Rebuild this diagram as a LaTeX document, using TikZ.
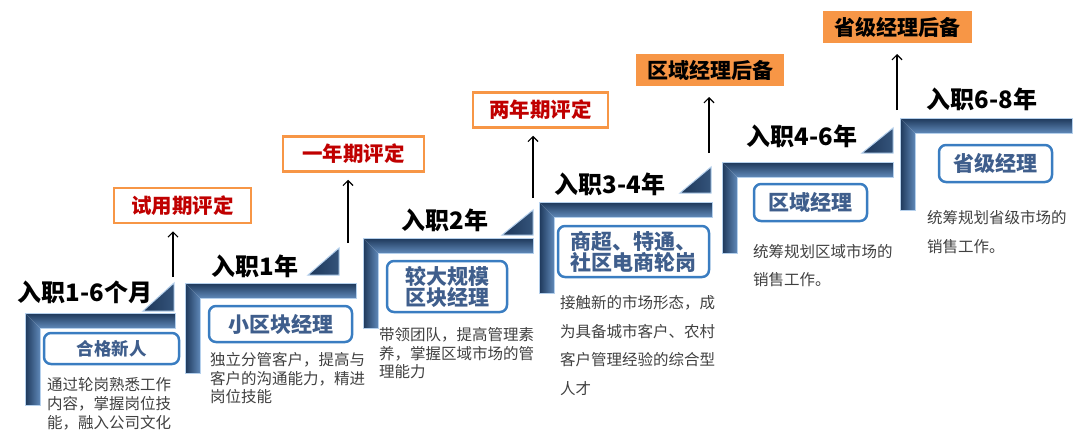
\documentclass[tikz,border=0pt]{standalone}
\usepackage{fontspec}
\setmainfont{Noto Sans CJK SC}
\usepackage{xcolor}
\usepackage{tikz}
\usetikzlibrary{arrows.meta}
\usetikzlibrary{shadows}
\definecolor{navydark}{HTML}{1D3759}
\definecolor{navylight}{HTML}{5F88B8}
\definecolor{bevelblue}{HTML}{B5D0EC}
\definecolor{postblue}{HTML}{3A7DC1}
\definecolor{posttext}{HTML}{3F5E8C}
\definecolor{evalorange}{HTML}{F79646}
\definecolor{evalred}{HTML}{C00000}
\definecolor{descgray}{HTML}{404040}
\tikzstyle{bevel}=[draw=bevelblue, line width=1pt, line join=miter]
\tikzstyle{stage}=[font=\fontsize{24}{24}\selectfont\bfseries, inner sep=0pt]
\tikzstyle{post}=[draw=postblue, line width=2.5pt, rounded corners=7pt, fill=white, text=posttext,
  font=\fontsize{21}{21}\selectfont\bfseries, align=center, inner sep=0pt]
\tikzstyle{review}=[draw=evalorange, line width=2.5pt, fill=white, text=evalred,
  font=\fontsize{20.5}{20.5}\selectfont\bfseries, inner sep=0pt, minimum height=35pt]
\tikzstyle{reserve}=[draw=white, line width=4pt, fill=evalorange, inner sep=0pt, minimum height=36pt,
  font=\fontsize{21}{21}\selectfont\bfseries, drop shadow={shadow xshift=1.5pt, shadow yshift=-1.5pt, opacity=.3}]
\tikzstyle{desc}=[text=descgray, align=left, inner sep=0pt, anchor=north west]
\tikzstyle{up}=[line width=1.2pt, -{Straight Barb[length=5pt,width=10pt]}, shorten >=7pt]
\newcommand\stair[4]{%
  \shade[top color=navydark, middle color=navydark, bottom color=navylight] (#1,#2) -- (#3,#2) -- (#3,#2+15) -- (#1+15,#2+15) -- cycle;
  \shade[left color=navydark, middle color=navydark, right color=navylight] (#1,#2) -- (#1+15,#2+15) -- (#1+15,#4) -- (#1,#4) -- cycle;
  \draw[bevel] (#1,#2) -- (#3,#2) -- (#3,#2+15) -- (#1+15,#2+15) -- (#1+15,#4) -- (#1,#4) -- cycle;
}
\newcommand\riser[3]{%
  \shade[left color=navydark, right color=navydark!65!navylight] (#1-31,#2) -- (#1,#2) -- (#1,#3) -- cycle;
  \draw[bevel] (#1-31,#2) -- (#1,#2) -- (#1,#3) -- cycle;
}

\begin{document}
\begin{tikzpicture}[x=1pt,y=-1pt]
	\useasboundingbox (0,0) rectangle (1080,439);
	\stair{25}{313}{175}{405}
	\stair{185}{283}{356}{373}
	\stair{363}{238}{533}{328}
	\stair{539}{202}{712}{293}
	\stair{722}{162}{893}{253}
	\stair{900}{118}{1072}{210}
	\riser{174}{311}{283}
	\riser{339}{275}{248}
	\riser{533}{235}{210}
	\riser{711}{193}{167}
	\riser{893}{153}{128}

	\node[stage] (s1) at (85,292)  {入职1-6个月};
	\node[stage] (s2) at (255,266) {入职1年};
	\node[stage] (s3) at (445,220) {入职2年};
	\node[stage] (s4) at (610,184) {入职3-4年};
	\node[stage] (s5) at (802,136) {入职4-6年};
	\node[stage] (s6) at (982,99)  {入职6-8年};

	\node[post, minimum width=135pt, minimum height=31pt, font=\fontsize{17.5}{17.5}\selectfont\bfseries] (p1) at (111.5,348.5) {合格新人};
	\node[post, minimum width=143pt, minimum height=36pt] (p2) at (280.5,324) {小区块经理};
	\node[post, minimum width=120pt, minimum height=51pt] (p3) at (447,286.5) {较大规模\\区块经理};
	\node[post, minimum width=151pt, minimum height=51pt] (p4) at (633.5,251.5) {商超、特通、\\社区电商轮岗};
	\node[post, minimum width=113pt, minimum height=37pt] (p5) at (810.5,202.5) {区域经理};
	\node[post, minimum width=113pt, minimum height=37pt] (p6) at (995.5,163.5) {省级经理};

	\node[review, minimum width=137pt] (r1) at (182.5,205.5) {试用期评定};
	\node[review, minimum width=141pt] (r2) at (353.5,154)   {一年期评定};
	\node[review, minimum width=135pt] (r3) at (540.5,110)   {两年期评定};
	\node[reserve, minimum width=152pt] (v1) at (710,70)   {区域经理后备};
	\node[reserve, minimum width=153pt] (v2) at (897.5,27) {省级经理后备};

	\node[desc, font=\fontsize{15.5}{19}\selectfont]   (d1) at (47,377.5)  {通过轮岗熟悉工作\\内容，掌握岗位技\\能，融入公司文化};
	\node[desc, font=\fontsize{15.5}{18.5}\selectfont] (d2) at (210,352.5) {独立分管客户，提高与\\客户的沟通能力，精进\\岗位技能};
	\node[desc, font=\fontsize{15.5}{18.5}\selectfont] (d3) at (379,327.5) {带领团队，提高管理素\\养，掌握区域市场的管\\理能力};
	\node[desc, font=\fontsize{15.5}{28.5}\selectfont] (d4) at (560,295.5) {接触新的市场形态，成\\为具备城市客户、农村\\客户管理经验的综合型\\人才};
	\node[desc, font=\fontsize{15.5}{28}\selectfont]   (d5) at (753,244.5) {统筹规划区域市场的\\销售工作。};
	\node[desc, font=\fontsize{15.5}{28.5}\selectfont] (d6) at (927,210.5) {统筹规划省级市场的\\销售工作。};

	\coordinate (a1) at (173,277);
	\coordinate (a2) at (348,243);
	\coordinate (a3) at (533,198);
	\coordinate (a4) at (709,153);
	\coordinate (a5) at (897,110);
	\draw[up] (a1) -- (a1 |- r1.south);
	\draw[up] (a2) -- (a2 |- r2.south);
	\draw[up] (a3) -- (a3 |- r3.south);
	\draw[up] (a4) -- (a4 |- v1.south);
	\draw[up] (a5) -- (a5 |- v2.south);
\end{tikzpicture}
\end{document}
